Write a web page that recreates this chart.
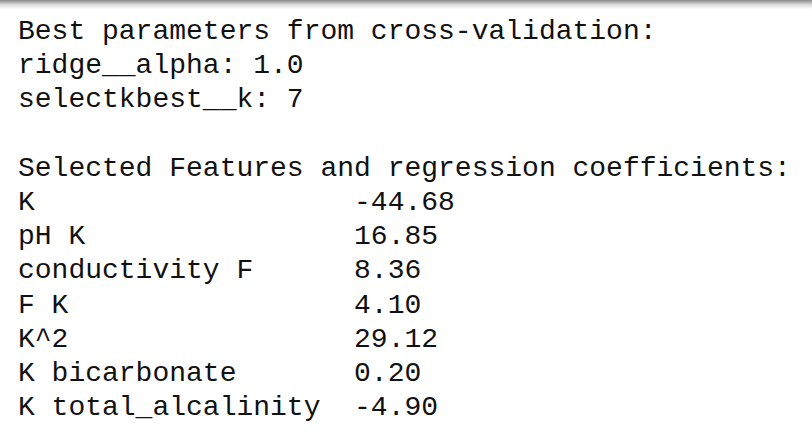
<!DOCTYPE html>
<html><head><meta charset="utf-8">
<script src="https://cdn.jsdelivr.net/npm/chart.js@4"></script>
<style>
html,body{margin:0;padding:0;background:#fff;width:812px;height:438px;overflow:hidden}
#shade{position:absolute;left:0;top:0;width:812px;height:9px;background:linear-gradient(#8a8a8a,#d8d8d8 50%,#fff)}
pre{position:absolute;left:18px;top:15px;margin:0;font-family:"Liberation Mono","Courier New",monospace;font-size:28px;line-height:34.2px;color:#111}
</style></head><body>
<div id="shade"></div>
<pre id="out"></pre>
<script>
const headerLines = ["Best parameters from cross-validation:", "ridge__alpha: 1.0", "selectkbest__k: 7", "", "Selected Features and regression coefficients:"];
const features = ["K", "pH K", "conductivity F", "F K", "K^2", "K bicarbonate", "K total_alcalinity"];
const coefficients = [-44.68, 16.85, 8.36, 4.10, 29.12, 0.20, -4.90];
const rows = features.map((f, i) => f.padEnd(20) + coefficients[i].toFixed(2));
document.getElementById('out').textContent = headerLines.concat(rows).join('\n');
</script>
</body></html>
